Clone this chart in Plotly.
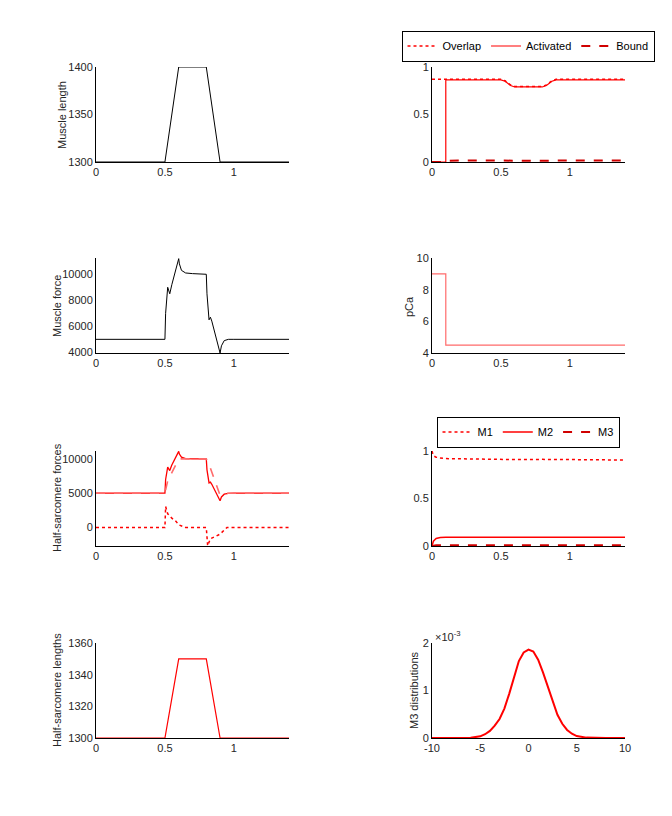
import plotly.graph_objects as go

# ---------------- data ----------------
t_len = [0, 0.5, 0.6, 0.8, 0.9, 1.4]
muscle_length = [1300, 1300, 1400, 1400, 1300, 1300]

t_force = [0, 0.5, 0.505, 0.52, 0.535, 0.55, 0.6, 0.605, 0.62, 0.65, 0.7, 0.8, 0.805, 0.82, 0.83, 0.84, 0.9, 0.91, 0.93, 0.96, 1.0, 1.4]
muscle_force = [5000, 5000, 7000, 9000, 8500, 9200, 11200, 10800, 10300, 10100, 10050, 10000, 8500, 6500, 6700, 6400, 3950, 4500, 4900, 5000, 5000, 5000]

hs_total = [5000, 5000, 7000, 8800, 8300, 9100, 11100, 10700, 10250, 10050, 10000, 10000, 8400, 6500, 6600, 6300, 3900, 4450, 4850, 4980, 5000, 5000]
t_hs_dash = [0, 0.5, 0.52, 0.55, 0.58, 0.6, 0.8, 0.82, 0.85, 0.88, 0.9, 0.92, 0.95, 1.4]
hs_dashed = [5000, 5000, 6800, 7900, 9200, 10000, 10000, 9200, 7500, 5800, 4700, 4900, 5000, 5000]
t_hs_dot = [0, 0.5, 0.505, 0.52, 0.55, 0.58, 0.6, 0.65, 0.8, 0.81, 0.83, 0.87, 0.9, 0.95, 1.4]
hs_dotted = [0, 0, 3060, 2000, 1360, 900, 390, 0, 0, -2670, -1650, -1300, -970, 0, 0]

hs_length = [1300, 1300, 1350, 1350, 1300, 1300]

t_ov = [0, 0.5, 0.53, 0.57, 0.6, 0.8, 0.83, 0.87, 0.9, 1.4]
overlap = [0.87, 0.87, 0.855, 0.81, 0.795, 0.795, 0.81, 0.855, 0.87, 0.87]
t_act = [0, 0.1, 0.1, 0.5, 0.53, 0.57, 0.6, 0.8, 0.83, 0.87, 0.9, 1.4]
activated = [0, 0, 0.865, 0.865, 0.85, 0.805, 0.79, 0.79, 0.805, 0.85, 0.865, 0.865]
t_bound = [0, 0.1, 0.12, 0.2, 0.5, 0.6, 0.8, 0.9, 1.4]
bound = [0, 0, 0.012, 0.015, 0.015, 0.012, 0.012, 0.015, 0.015]

t_pca = [0, 0.1, 0.1, 1.4]
pca = [9, 9, 4.5, 4.5]

t_m = [0, 0.01, 0.03, 0.06, 0.1, 0.3, 0.5, 0.6, 0.8, 1.0, 1.4]
m1 = [1.0, 0.95, 0.935, 0.925, 0.92, 0.915, 0.912, 0.91, 0.912, 0.91, 0.905]
m2 = [0.0, 0.05, 0.08, 0.09, 0.093, 0.093, 0.093, 0.093, 0.093, 0.093, 0.093]
m3 = [0.0, 0.004, 0.007, 0.008, 0.009, 0.009, 0.009, 0.009, 0.009, 0.009, 0.009]

x_dist = [-10, -9, -8, -7, -6, -5, -4.5, -4, -3.5, -3, -2.5, -2, -1.5, -1, -0.5, 0, 0.5, 1, 1.5, 2, 2.5, 3, 3.5, 4, 4.5, 5, 6, 7, 8, 9, 10]
m3_dist = [0, 0, 0, 0, 0.005e-3, 0.035e-3, 0.08e-3, 0.15e-3, 0.26e-3, 0.40e-3, 0.62e-3, 0.93e-3, 1.30e-3, 1.62e-3, 1.80e-3, 1.86e-3, 1.82e-3, 1.65e-3, 1.38e-3, 1.08e-3, 0.76e-3, 0.49e-3, 0.30e-3, 0.17e-3, 0.09e-3, 0.04e-3, 0.008e-3, 0, 0, 0, 0]

# ---------------- layout helpers ----------------
W, H = 672, 816
FONT = "Liberation Sans, Arial, sans-serif"
TXT = "#262626"

def px_x(p):
    return p / W

def px_y(p):
    return 1 - p / H

cols = [(96, 289), (432, 625)]
rows = [(67, 162), (258, 353), (451, 546), (643, 738)]

fig = go.Figure()

RED = "#ff0000"
DRED = "#d00000"
PINK = "#ff6b6b"

def add(x, y, ax, **kw):
    fig.add_trace(go.Scatter(x=x, y=y, mode="lines", xaxis="x" + ax, yaxis="y" + ax, **kw))

# left column: axes 1..4, right: 5..8
add(t_len, muscle_length, "1", line=dict(color="black", width=1), showlegend=False)
add(t_force, muscle_force, "2", line=dict(color="black", width=1), showlegend=False)
add(t_force, hs_total, "3", line=dict(color=RED, width=1.3), showlegend=False)
add(t_hs_dash, hs_dashed, "3", line=dict(color=PINK, width=1.6, dash="dash"), showlegend=False)
add(t_hs_dot, hs_dotted, "3", line=dict(color=RED, width=1.5, dash="dot"), showlegend=False)
add(t_len, hs_length, "4", line=dict(color=RED, width=1.2), showlegend=False)

add(t_ov, overlap, "5", line=dict(color=RED, width=1.5, dash="dot"), name="Overlap", legend="legend")
add(t_act, activated, "5", line=dict(color=RED, width=1.2), name="Activated", legend="legend")
add(t_bound, bound, "5", line=dict(color=DRED, width=2, dash="dash"), name="Bound", legend="legend")
add(t_pca, pca, "6", line=dict(color=PINK, width=1.2), showlegend=False)
add(t_m, m1, "7", line=dict(color=RED, width=1.5, dash="dot"), name="M1", legend="legend2")
add(t_m, m2, "7", line=dict(color=RED, width=1.5), name="M2", legend="legend2")
add(t_m, m3, "7", line=dict(color=DRED, width=2, dash="dash"), name="M3", legend="legend2")
add(x_dist, m3_dist, "8", line=dict(color=RED, width=2), showlegend=False)

axis_common = dict(showline=True, linecolor="black", linewidth=1, showgrid=False, zeroline=False,
                   ticks="", tickfont=dict(family=FONT, size=11, color=TXT), mirror=False, automargin=False)

yranges = [[1300, 1400], [3950, 11250], [-2700, 11150], [1300, 1360],
           [0, 1], [4, 10], [0, 1], [0, 0.002]]
yticks = [([1300, 1350, 1400], ["1300", "1350", "1400"]),
          ([4000, 6000, 8000, 10000], ["4000", "6000", "8000", "10000"]),
          ([0, 5000, 10000], ["0", "5000", "10000"]),
          ([1300, 1320, 1340, 1360], ["1300", "1320", "1340", "1360"]),
          ([0, 0.5, 1], ["0", "0.5", "1"]),
          ([4, 6, 8, 10], ["4", "6", "8", "10"]),
          ([0, 0.5, 1], ["0", "0.5", "1"]),
          ([0, 0.001, 0.002], ["0", "1", "2"])]

layout = {}
for i in range(8):
    c = 0 if i < 4 else 1
    r = i % 4
    n = str(i + 1)
    xd = [px_x(cols[c][0]), px_x(cols[c][1])]
    yd = [px_y(rows[r][1]), px_y(rows[r][0])]
    if i == 7:
        xr, xt, xtt = [-10, 10], [-10, -5, 0, 5, 10], ["-10", "-5", "0", "5", "10"]
    else:
        xr, xt, xtt = [0, 1.4], [0, 0.5, 1], ["0", "0.5", "1"]
    layout["xaxis" + ("" if i == 0 else n)] = dict(axis_common, domain=xd, range=xr, tickvals=xt, ticktext=xtt,
                                                   anchor="y" + ("" if i == 0 else n))
    layout["yaxis" + ("" if i == 0 else n)] = dict(axis_common, domain=yd, range=yranges[i],
                                                   tickvals=yticks[i][0], ticktext=yticks[i][1],
                                                   anchor="x" + ("" if i == 0 else n))

fig.update_layout(template="none")
fig.update_layout(**layout)

leg_common = dict(orientation="h", bordercolor="black", borderwidth=1, bgcolor="white",
                  font=dict(family=FONT, size=11, color="black"), itemwidth=30,
                  xanchor="center", yanchor="middle", tracegroupgap=0)
fig.update_layout(
    legend=dict(leg_common, x=px_x(528), y=px_y(46)),
    legend2=dict(leg_common, x=px_x(528), y=px_y(432)),
)

labels = [("Muscle length", 62, 115), ("Muscle force", 57, 306), ("Half-sarcomere forces", 57, 498),
          ("Half-sarcomere lengths", 57, 690), ("pCa", 409, 306), ("M3 distributions", 414, 690)]
ann = []
for txt, x, y in labels:
    ann.append(dict(text=txt, x=px_x(x), y=px_y(y), xref="paper", yref="paper", showarrow=False,
                    textangle=-90, xanchor="center", yanchor="middle",
                    font=dict(family=FONT, size=11, color=TXT)))
ann.append(dict(text="×10<sup>-3</sup>", x=px_x(433), y=px_y(636), xref="paper", yref="paper",
                showarrow=False, xanchor="left", yanchor="middle", font=dict(family=FONT, size=11, color=TXT)))

fig.update_layout(width=W, height=H, margin=dict(l=0, r=0, t=0, b=0, autoexpand=False), plot_bgcolor="white",
                  paper_bgcolor="white", annotations=ann, font=dict(family=FONT, size=11, color=TXT))

fig.write_html("out.html", post_script="document.body.style.margin='0';document.body.style.overflow='hidden';")
